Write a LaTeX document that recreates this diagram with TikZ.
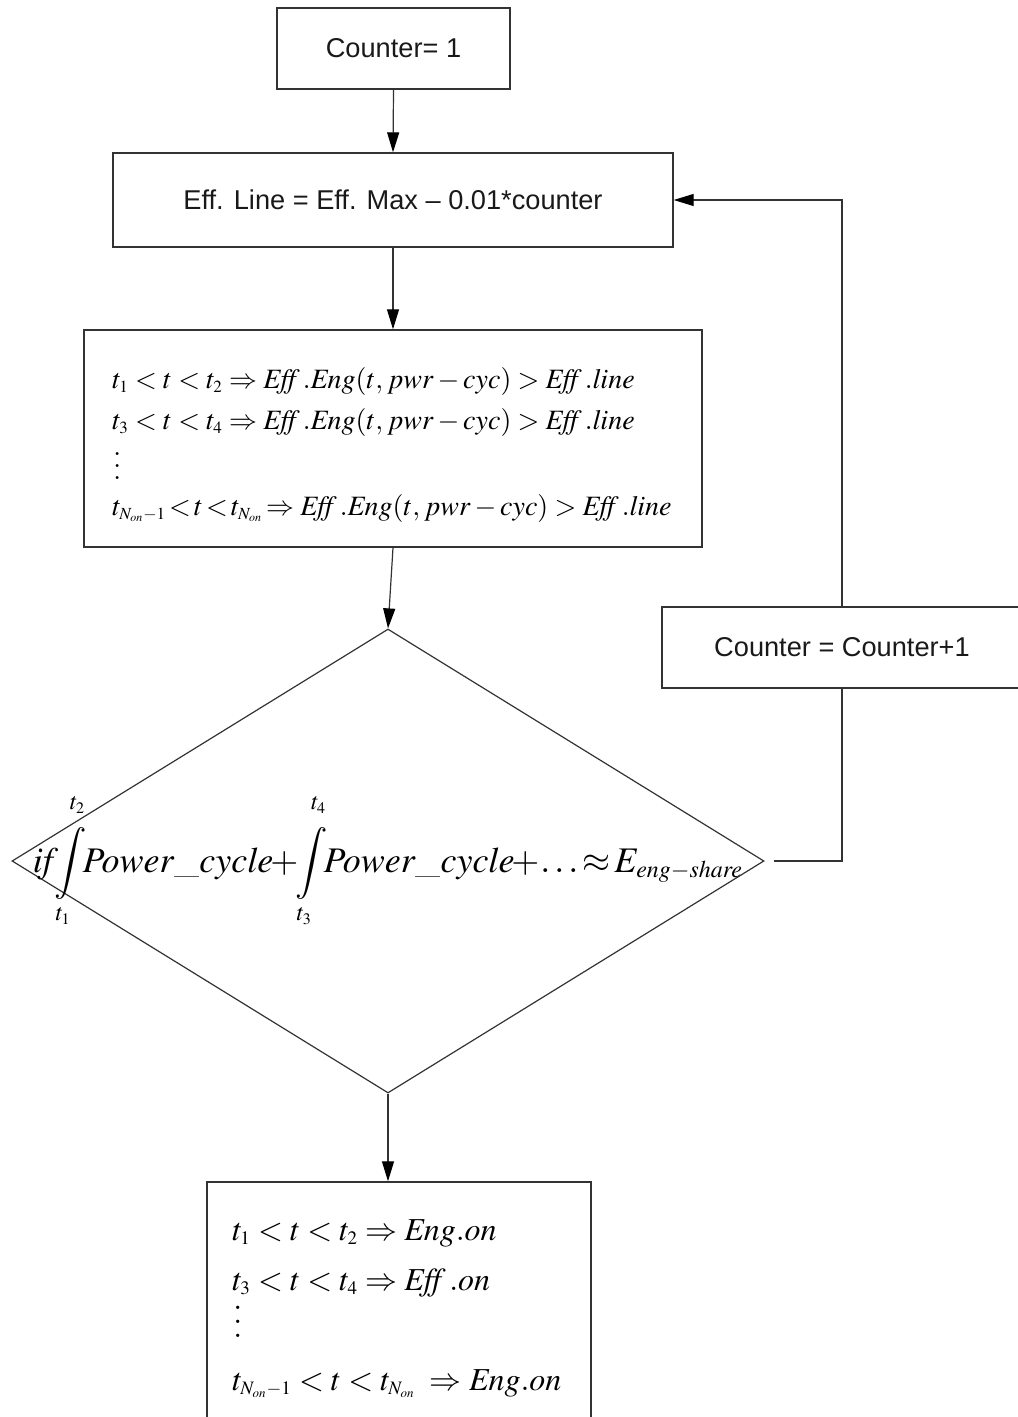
\documentclass[tikz,border=0pt]{standalone}
\usepackage{mathptmx}
\usepackage{graphicx}
\usepackage[no-math]{fontspec}
\newfontfamily\arial{Liberation Sans}
\usetikzlibrary{shapes.geometric,arrows.meta}

% compact sub- and superscripts for the formulas
\DeclareMathSizes{14}{14}{8.5}{6}
\DeclareMathSizes{16}{16}{9.5}{6.5}
\DeclareMathSizes{18}{18}{12}{8}

% three stacked dots with a given spacing
\newcommand{\dotstack}[1]{\vbox{\baselineskip=#1\lineskiplimit=0pt\hbox{$.$}\hbox{$.$}\hbox{$.$}}}
% raised upper limit of an integral
\newcommand{\uplim}[1]{\raisebox{5pt}{$\scriptstyle #1$}}

\tikzset{
  frame/.style={draw=black!80, line width=0.7pt, rectangle, inner sep=0pt},
  label/.style={font=\arial\fontsize{13.6}{16}\selectfont, text=black!90},
  conn/.style={draw=black!80, line width=0.6pt},
  arr/.style={conn, -{Triangle[length=10pt, width=6pt, color=black]}},
  mline/.style={anchor=base west, inner sep=0pt},
}

\begin{document}
\begin{tikzpicture}[x=0.5pt, y=-0.5pt]
\useasboundingbox (0,0) rectangle (1017,1417);

% process boxes
\node[frame, label, minimum width=116.5pt, minimum height=40.5pt] (init) at (393.5,48.5) {Counter= 1};
\node[frame, label, minimum width=280pt, minimum height=47pt] (line) at (393,200) {Eff. Line = Eff. Max – 0.01*counter};
\node[frame, minimum width=309pt, minimum height=108.5pt] (intervals) at (393,438.5) {};
\node[frame, label, minimum width=180pt, minimum height=40.5pt] (incr) at (842,647.5) {Counter = Counter+1};
\node[draw=black!80, line width=0.6pt, diamond, inner sep=0pt, minimum width=376pt, minimum height=232pt] (test) at (388,861) {};
\node[frame, minimum width=192pt, minimum height=135pt] (result) at (399,1317) {};

% interval conditions
\begin{scope}[every node/.style={mline, font=\fontsize{14}{16}\selectfont}]
\node (c1) at (112,388) {$t_1 < t < t_2 \Rightarrow \mathit{Eff}\,.\mathit{Eng}(t,\,\mathit{pwr}-\mathit{cyc}) > \mathit{Eff}\,.\mathit{line}$};
\node (c2) at (112,429) {$t_3 < t < t_4 \Rightarrow \mathit{Eff}\,.\mathit{Eng}(t,\,\mathit{pwr}-\mathit{cyc}) > \mathit{Eff}\,.\mathit{line}$};
\node (c3) at (113,479) {\dotstack{5.8pt}};
\node (c4) at (112,515) {$t_{N_{\mathit{on}}-1}\!<\!t\!<\!t_{N_{\mathit{on}}}\!\Rightarrow \mathit{Eff}\,.\mathit{Eng}(t,\,\mathit{pwr}-\mathit{cyc}) > \mathit{Eff}\,.\mathit{line}$};
\end{scope}

% energy-share test
\node[anchor=base, inner sep=0pt, font=\fontsize{18}{20}\selectfont] (share) at (388,872)
  {$\displaystyle \mathit{if}\!\!\int\limits_{t_1}^{\uplim{t_2}}\!\!\mathit{Power\_cycle}\!\!+\!\!\int\limits_{t_3}^{\uplim{t_4}}\!\!\mathit{Power\_cycle}\!\!+\!\ldots\!\approx\! E_{\mathit{eng}-\mathit{share}}$};

% resulting engine states
\begin{scope}[every node/.style={mline, font=\fontsize{16}{18}\selectfont}]
\node (r1) at (232,1240) {$t_1 < t < t_2 \Rightarrow \mathit{Eng}.\mathit{on}$};
\node (r2) at (232,1290) {$t_3 < t < t_4 \Rightarrow \mathit{Eff}\,.\mathit{on}$};
\node (r3) at (233,1337) {\dotstack{7pt}};
\node (r4) at (232,1390) {$t_{N_{\mathit{on}}-1} < t < t_{N_{\mathit{on}}} \;\Rightarrow \mathit{Eng}.\mathit{on}$};
\end{scope}

% connectors
\draw[arr] (init.south) -- (line.north);
\draw[arr] (line.south) -- (intervals.north);
\draw[arr] (intervals.south) -- (test.north);
\draw[arr] (test.south) -- (test.south |- result.north);
\draw[conn, shorten <=4.5pt] (test.east) -| (incr.south);
\draw[arr] (incr.north) |- (line.east);
\end{tikzpicture}
\end{document}
